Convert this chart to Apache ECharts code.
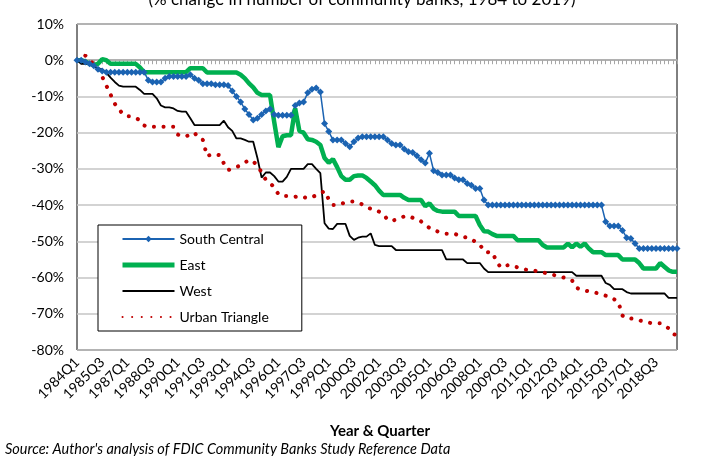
<!DOCTYPE html>
<html>
<head>
<meta charset="utf-8">
<script src="https://cdn.jsdelivr.net/npm/echarts@6/dist/echarts.min.js"></script>
<style>
  html, body { margin: 0; padding: 0; background: #fff; }
  #chart { width: 709px; height: 456px; }
</style>
</head>
<body>
<div id="chart"></div>
<script>
// quarters 1984Q1 .. 2019Q4
var startYear = 1984
var endYear = 2019
var quarters = []
for (var y = startYear; y <= endYear; y++) {
  for (var q = 1; q <= 4; q++) {
    quarters.push(y + 'Q' + q)
  }
}

// % change in number of community banks
var southCentral = [
  0, 0, -0.5, -1, -1.5, -2.5, -3, -3.3,
  -3.3, -3.3, -3.3, -3.3, -3.3, -3.3, -3.3, -3.3,
  -3.3, -5.5, -6, -6, -6, -5, -4.5, -4.5,
  -4.5, -4.5, -4.5, -4, -5, -5.5, -6.5, -6.5,
  -6.5, -6.8, -6.8, -6.8, -7, -8.5, -10, -11.5,
  -13.5, -15, -16.5, -16, -15, -14, -13.5, -15,
  -15.2, -15.2, -15.2, -15.2, -12.5, -11.8, -11.5, -9,
  -8, -7.7, -8.8, -17.5, -19.7, -22, -22, -22,
  -23, -23.9, -22.5, -21.5, -21.1, -21.1, -21.1, -21.1,
  -21.1, -21.1, -22, -23, -23.4, -23.4, -24.5, -25.3,
  -25.5, -26.4, -27.5, -28.4, -25.7, -30.5, -31, -31.7,
  -31.7, -31.7, -32.5, -33, -33, -34, -34.5, -35.4,
  -35.4, -38.6, -40, -40, -40, -40, -40, -40,
  -40, -40, -40, -40, -40, -40, -40, -40,
  -40, -40, -40, -40, -40, -40, -40, -40,
  -40, -40, -40, -40, -40, -40, -44.6, -45.8,
  -45.8, -45.8, -47, -49, -49.2, -50.6, -52, -52,
  -52, -52, -52, -52, -52, -52, -52, -52
]

var east = [
  0, 0, -0.3, -1, -1.3, -1, 0.3, 0,
  -1, -1, -1, -1, -1, -1, -1, -2,
  -3.3, -3.3, -3.3, -3.3, -3.3, -3.3, -3.3, -3.3,
  -3.3, -3.3, -3.3, -2.2, -2.2, -2.2, -2.2, -3.4,
  -3.4, -3.4, -3.4, -3.4, -3.4, -3.4, -3.4, -4,
  -5, -6.4, -7.5, -9, -9.6, -9.6, -9.6, -17,
  -24, -21, -20.7, -20.7, -13.3, -19.5, -20, -21.8,
  -22, -22.5, -23.4, -27, -28.3, -27.3, -29.5, -32,
  -33, -33, -32, -31.8, -31.8, -32.5, -33.5, -34.5,
  -36, -37.2, -37.2, -37.2, -37.2, -37.2, -38, -38.6,
  -38.6, -38.6, -38.6, -40.3, -39.5, -41, -41.6, -41.8,
  -41.8, -41.8, -41.8, -43, -43, -43, -43, -43,
  -45.5, -47.2, -47.3, -48, -48.5, -48.5, -48.5, -48.5,
  -48.5, -49.7, -49.7, -49.7, -49.7, -49.7, -49.7, -51,
  -51.7, -51.7, -51.7, -51.7, -51.7, -50.6, -51.7, -50.6,
  -51.5, -50.6, -52, -53, -53, -53, -53.8, -53.8,
  -53.8, -53.8, -55, -55, -55, -55, -56, -57.5,
  -57.5, -57.5, -57.5, -56, -57, -58, -58.4, -58.4
]

var west = [
  0, -1, -1, -1, -1.8, -2.2, -2.5, -3.5,
  -4.8, -6, -7, -7.3, -7.3, -7.3, -7.3, -8.2,
  -9.3, -9.3, -9.3, -10.5, -12.5, -13, -13, -13.3,
  -14, -14.2, -14.2, -16, -17.9, -17.9, -17.9, -17.9,
  -17.9, -17.9, -17.9, -16.7, -18.5, -19.5, -21.6, -21.6,
  -22, -22.5, -22.5, -27, -32.4, -31, -31, -32,
  -33.5, -33.5, -32.2, -30, -30, -30, -30, -28.7,
  -28.7, -30, -31.2, -45, -46.5, -46.6, -45.2, -45.2,
  -45.2, -48.5, -49.6, -49, -48.7, -48.7, -47.8, -51,
  -51.3, -51.3, -51.3, -51.3, -52.4, -52.4, -52.4, -52.4,
  -52.4, -52.4, -52.4, -52.4, -52.4, -52.4, -52.4, -52.4,
  -55, -55, -55, -55, -55, -56, -56, -56,
  -56, -57.5, -58.5, -58.5, -58.5, -58.5, -58.5, -58.5,
  -58.5, -58.5, -58.5, -58.5, -58.5, -58.5, -58.5, -58.5,
  -58.5, -58.5, -58.5, -58.5, -58.5, -58.5, -58.5, -59.5,
  -59.5, -59.5, -59.5, -59.5, -59.5, -59.5, -61.5, -62,
  -63.2, -63.2, -63.2, -64, -64.4, -64.4, -64.4, -64.4,
  -64.4, -64.4, -64.4, -64.4, -64.4, -65.6, -65.6, -65.6
]

var urbanTriangle = [
  0, 0.5, 1.3, 0, -1, -2.5, -4.5, -7,
  -9.5, -12, -13.5, -15, -15.5, -15.5, -16, -16.5,
  -18, -18.4, -18.4, -18.4, -18.4, -18.4, -18.4, -18.4,
  -20.5, -21, -21, -20.5, -20, -21.5, -22, -26.5,
  -26, -26, -26.2, -28.5, -30.3, -30, -29.5, -29,
  -28.3, -27.5, -28, -29, -31, -33, -34, -35,
  -37, -37.5, -37.5, -37.6, -37.7, -37.5, -37.8, -38.1,
  -37.8, -37.3, -36.8, -36.1, -38.4, -40, -40, -39.6,
  -39.3, -39, -39, -39.3, -39.8, -40.6, -41, -41.2,
  -41.8, -42.5, -44, -44.4, -44, -43.6, -43.1, -43,
  -43.5, -43.8, -44.5, -45.4, -46.3, -46.9, -47.3, -47.7,
  -47.9, -47.9, -47.9, -48.4, -48.7, -49, -49.4, -50.2,
  -50.8, -52.8, -53, -53, -55.6, -57.2, -56.8, -56.5,
  -56.8, -57.2, -57.5, -57.8, -58, -58.1, -58.3, -58.6,
  -58.8, -59.1, -59.4, -59.7, -60, -60.3, -60.8, -62.8,
  -63.3, -63.6, -63.8, -64, -64.3, -64.6, -65, -65.3,
  -66, -66.7, -70.5, -71.3, -71.3, -71.5, -71.8, -72.1,
  -72.4, -72.6, -72.6, -72.6, -73.2, -74, -75.5, -76
]

var font = 'Lato, "Open Sans", sans-serif'
var chart = echarts.init(document.getElementById('chart'), null, { renderer: 'canvas' })

chart.setOption({
  animation: false,
  backgroundColor: '#fff',
  textStyle: { fontFamily: font, color: '#000' },
  graphic: [
    {
      type: 'text', x: 362, y: 0,
      style: {
        text: '(% change in number of community banks, 1984 to 2019)',
        font: '17px ' + font, fill: '#000', textAlign: 'center', textVerticalAlign: 'middle'
      }
    },
    {
      type: 'text', x: 380, y: 431,
      style: {
        text: 'Year & Quarter',
        font: 'bold 15px ' + font, fill: '#000', textAlign: 'center', textVerticalAlign: 'middle'
      }
    },
    {
      type: 'text', x: 5, y: 449,
      style: {
        text: 'Source: Author\'s analysis of FDIC Community Banks Study Reference Data',
        font: 'italic 14.5px ' + font, fill: '#000', textAlign: 'left', textVerticalAlign: 'middle'
      }
    }
  ],
  grid: {
    left: 77,
    right: 32,
    top: 24,
    bottom: 106,
    show: true,
    borderColor: '#000',
    borderWidth: 1
  },
  legend: {
    orient: 'vertical',
    left: 98,
    top: 225,
    itemWidth: 52,
    itemHeight: 8,
    itemGap: 12,
    padding: [7, 33, 7, 22],
    backgroundColor: '#fff',
    borderColor: '#000',
    borderWidth: 1,
    textStyle: { fontFamily: font, fontSize: 14, color: '#000' },
    data: [
      { name: 'South Central' },
      { name: 'East', itemStyle: { opacity: 0 }, lineStyle: { width: 5 } },
      { name: 'West', itemStyle: { opacity: 0 }, lineStyle: { width: 2 } },
      { name: 'Urban Triangle', itemStyle: { opacity: 0 } }
    ]
  },
  xAxis: [
    {
      // bottom labels only
      type: 'category',
      data: quarters,
      boundaryGap: false,
      position: 'bottom',
      axisLine: { show: false, onZero: false },
      axisTick: { show: false },
      axisLabel: {
        interval: 5,
        rotate: 45,
        margin: 10,
        fontSize: 14,
        fontFamily: font,
        color: '#000'
      },
      splitLine: { show: false }
    },
    {
      // line with ticks along 0%
      type: 'category',
      data: quarters,
      boundaryGap: false,
      position: 'bottom',
      axisLine: { onZero: true, lineStyle: { color: '#a6a6a6', width: 1.5 } },
      axisTick: { show: true, interval: 0, length: 4, lineStyle: { color: '#a6a6a6' } },
      axisLabel: { show: false },
      splitLine: { show: false }
    }
  ],
  yAxis: {
    type: 'value',
    min: -80,
    max: 10,
    interval: 10,
    axisLine: { show: false },
    axisTick: { show: false },
    axisLabel: {
      formatter: '{value}%',
      fontSize: 14,
      margin: 13,
      fontFamily: font,
      color: '#000'
    },
    splitLine: { lineStyle: { color: '#c4c4c4', width: 1.5 } }
  },
  series: [
    {
      name: 'South Central',
      type: 'line',
      xAxisIndex: 1,
      data: southCentral,
      symbol: 'diamond',
      symbolSize: 7,
      showAllSymbol: true,
      color: '#1b63b2',
      lineStyle: { color: '#1b63b2', width: 1.5 },
      itemStyle: { color: '#1b63b2' }
    },
    {
      name: 'East',
      type: 'line',
      xAxisIndex: 1,
      data: east,
      showSymbol: false,
      symbol: 'none',
      color: '#00b050',
      lineStyle: { color: '#00b050', width: 4.5 }
    },
    {
      name: 'West',
      type: 'line',
      xAxisIndex: 1,
      data: west,
      showSymbol: false,
      symbol: 'none',
      color: '#000',
      lineStyle: { color: '#000', width: 1.8 }
    },
    {
      name: 'Urban Triangle',
      type: 'line',
      xAxisIndex: 1,
      data: urbanTriangle,
      showSymbol: false,
      symbol: 'none',
      color: '#c00000',
      lineStyle: { color: '#c00000', width: 4, type: [0.1, 9.5], cap: 'round' }
    }
  ]
})
</script>
</body>
</html>
